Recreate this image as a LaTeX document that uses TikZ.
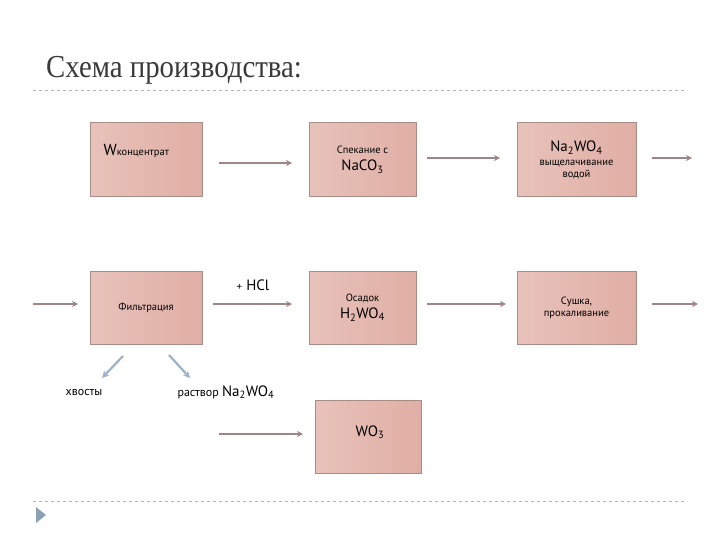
\documentclass[tikz,border=0pt]{standalone}
\usepackage{fontspec}
\setmainfont{PT Sans}
\newfontfamily\titlefont{Liberation Serif}
\usetikzlibrary{arrows.meta}
\definecolor{boxfill}{HTML}{E0AEA4}
\definecolor{boxedge}{HTML}{A88C86}
\definecolor{arr}{HTML}{A08585}
\definecolor{blu}{HTML}{9DB2C8}
\definecolor{ttl}{HTML}{3A3A3A}
\newcommand{\sbs}[1]{\textsubscript{#1}}
\begin{document}
\begin{tikzpicture}[x=1pt,y=-1pt,
  box/.style={draw=boxedge,line width=1pt,left color=boxfill!75!white,right color=boxfill,minimum width=#1,inner sep=0pt,align=center,font=\fontsize{10.5}{12}\selectfont},
  ar/.style={draw=arr,line width=2.4pt,-{Stealth[length=6pt,width=6pt]}},
  bar/.style={draw=blu,line width=2.2pt,-{Stealth[length=7pt,width=7pt]}},
  big/.style={font=\fontsize{15}{16}\selectfont},
  lbl/.style={font=\fontsize{12}{14}\selectfont}]
\useasboundingbox (0,0) rectangle (720,540);
\fill[white] (0,0) rectangle (720,540);
\node[anchor=west,text=ttl,font=\titlefont\fontsize{32}{34}\selectfont,xscale=0.9] (title) at (43,70) {Схема производства:};
\draw[gray!60,dashed,line width=0.6pt] (33,90) coordinate (d1) -- (687,90) coordinate (d2);
\draw[gray!60,dashed,line width=0.6pt] (33,501) coordinate (d3) -- (687,501) coordinate (d4);
\fill[blu!90!black] (36,507) coordinate (t1) -- (36,523) -- (46,515) -- cycle;
% row 1
\node[box=112pt,minimum height=74pt] (b1) at (146,160) {};
\node[anchor=west,font=\fontsize{16}{16}\selectfont] (b1t) at (100,151) {W\fontsize{10.5}{12}\selectfont концентрат};
\node[box=107pt,minimum height=74pt] (b2) at (362.5,160) {Спекание с\\[5pt]{\fontsize{15}{16}\selectfont NaCO\sbs{3}}};
\node[box=119pt,minimum height=74pt] (b3) at (576.5,160) {{\fontsize{15}{16}\selectfont Na\sbs{2}WO\sbs{4}}\\[2pt]выщелачивание\\водой};
\coordinate (a1s) at (219,163); \coordinate (a1e) at (292,163);
\coordinate (a2s) at (427,158); \coordinate (a2e) at (500,158);
\coordinate (a3s) at (652,158); \coordinate (a3e) at (692,158);
\draw[ar] (a1s) -- (a1e);
\draw[ar] (a2s) -- (a2e);
\draw[ar] (a3s) -- (a3e);
% row 2
\node[box=112pt,minimum height=73pt] (c1) at (146,307.5) {Фильтрация};
\node[box=107pt,minimum height=73pt] (c2) at (362.5,307.5) {Осадок\\[4pt]{\fontsize{15}{16}\selectfont H\sbs{2}WO\sbs{4}}};
\node[box=119pt,minimum height=73pt] (c3) at (576.5,307.5) {Сушка,\\прокаливание};
\coordinate (r0s) at (33,304); \coordinate (r0e) at (78,304);
\coordinate (r1s) at (213,304); \coordinate (r1e) at (292,304);
\coordinate (r2s) at (427,304); \coordinate (r2e) at (506,304);
\coordinate (r3s) at (652,304); \coordinate (r3e) at (698,304);
\draw[ar] (r0s) -- (r0e);
\draw[ar] (r1s) -- (r1e);
\draw[ar] (r2s) -- (r2e);
\draw[ar] (r3s) -- (r3e);
\node[font=\fontsize{15}{16}\selectfont] (hcl) at (253,285) {{\fontsize{11}{12}\selectfont +} HCl};
% branch
\coordinate (bl1) at (123,356); \coordinate (bl2) at (102,378);
\coordinate (br1) at (169,355); \coordinate (br2) at (190,378);
\draw[bar] (bl1) -- (bl2);
\draw[bar] (br1) -- (br2);
\node[lbl] (xv) at (84,392) {хвосты};
\node[lbl] (rs) at (226,392) {раствор {\fontsize{15}{16}\selectfont Na\sbs{2}WO\sbs{4}}};
% bottom
\node[box=106pt,minimum height=73pt] (d) at (368,436.5) {};
\node[font=\fontsize{15}{16}\selectfont] (dt) at (370,432) {WO\sbs{3}};
\coordinate (bs) at (219,434); \coordinate (be) at (303,434);
\draw[ar] (bs) -- (be);
\end{tikzpicture}
\end{document}
